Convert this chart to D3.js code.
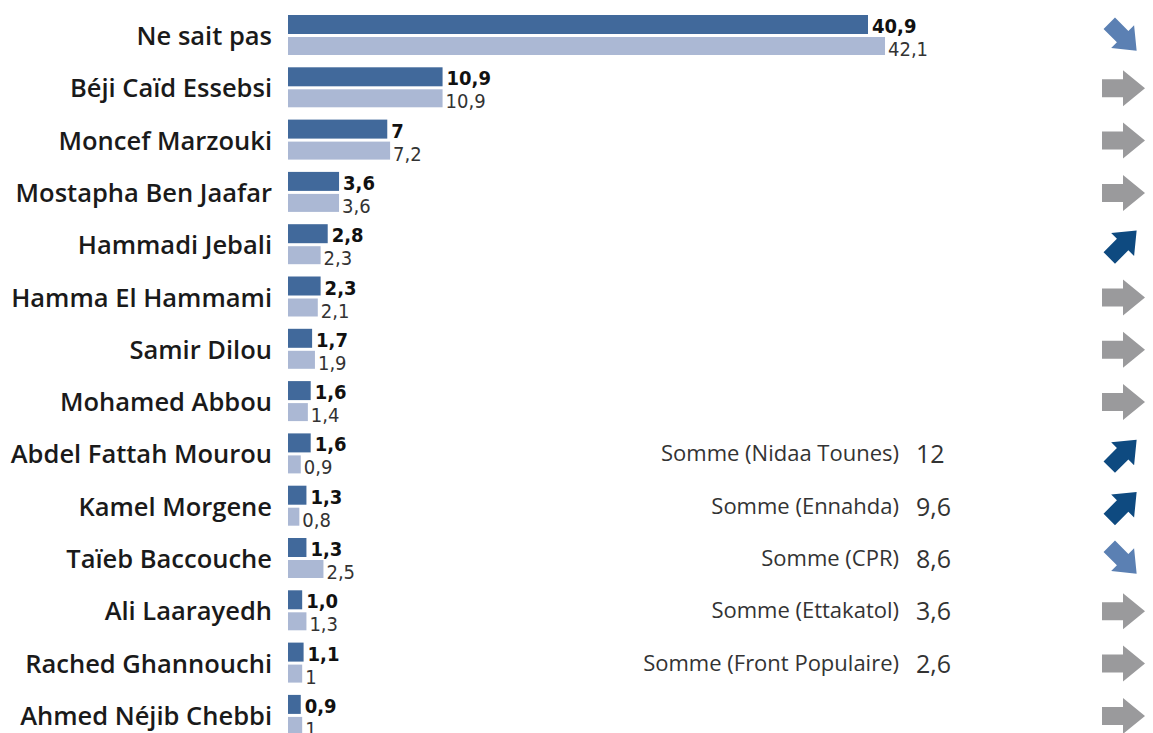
<!DOCTYPE html>
<html>
<head>
<meta charset="utf-8">
<script src="https://cdn.jsdelivr.net/npm/d3@7"></script>
<style>
  body { margin: 0; background: #fff; }
  svg { display: block; }
</style>
</head>
<body>
<svg id="chart" width="1153" height="733"></svg>
<script>
//Data
let names = ["Ne sait pas", "Béji Caïd Essebsi", "Moncef Marzouki", "Mostapha Ben Jaafar",
    "Hammadi Jebali", "Hamma El Hammami", "Samir Dilou", "Mohamed Abbou", "Abdel Fattah Mourou",
    "Kamel Morgene", "Taïeb Baccouche", "Ali Laarayedh", "Rached Ghannouchi", "Ahmed Néjib Chebbi"];
let current = [40.9, 10.9, 7, 3.6, 2.8, 2.3, 1.7, 1.6, 1.6, 1.3, 1.3, 1.0, 1.1, 0.9];
let previous = [42.1, 10.9, 7.2, 3.6, 2.3, 2.1, 1.9, 1.4, 0.9, 0.8, 2.5, 1.3, 1, 1];
let currentLabels = ["40,9", "10,9", "7", "3,6", "2,8", "2,3", "1,7", "1,6", "1,6", "1,3", "1,3", "1,0", "1,1", "0,9"];
let previousLabels = ["42,1", "10,9", "7,2", "3,6", "2,3", "2,1", "1,9", "1,4", "0,9", "0,8", "2,5", "1,3", "1", "1"];
let trends = ["down", "flat", "flat", "flat", "up", "flat", "flat", "flat", "up", "up", "down", "flat", "flat", "flat"];
let sumParties = ["Nidaa Tounes", "Ennahda", "CPR", "Ettakatol", "Front Populaire"];
let sumValues = ["12", "9,6", "8,6", "3,6", "2,6"];
let sumRows = ["Abdel Fattah Mourou", "Kamel Morgene", "Taïeb Baccouche", "Ali Laarayedh", "Rached Ghannouchi"];

let svg = d3.select("#chart");
let font = "'Open Sans', 'Noto Sans', sans-serif";
let condensed = "'DejaVu Sans Condensed', 'DejaVu Sans', sans-serif";

//Scales
let x = d3.scaleLinear().domain([0, 40.9]).range([288, 868]);
let y = d3.scaleBand().domain(names).range([15, 15 + 14 * 52.3]);

let rows = names.map((n, i) => ({name: n, cur: current[i], prev: previous[i],
    curLabel: currentLabels[i], prevLabel: previousLabels[i], trend: trends[i]}));

let g = svg.append("g");

//Names
g.selectAll(".name")
    .data(rows)
    .enter().append("text")
    .attr("class", "name")
    .attr("x", 272)
    .attr("y", d => y(d.name) + 30)
    .attr("text-anchor", "end")
    .attr("font-family", font)
    .attr("font-weight", 600)
    .attr("font-size", "25.5px")
    .attr("fill", "#1a1a1a")
    .text(d => d.name);

//Bars
g.selectAll(".cur")
    .data(rows)
    .enter().append("rect")
    .attr("x", x(0))
    .attr("y", d => y(d.name))
    .attr("width", d => x(d.cur) - x(0))
    .attr("height", 19)
    .attr("fill", "#41699b");

g.selectAll(".prev")
    .data(rows)
    .enter().append("rect")
    .attr("x", x(0))
    .attr("y", d => y(d.name) + 22)
    .attr("width", d => x(d.prev) - x(0))
    .attr("height", 18)
    .attr("fill", "#abb8d4");

//Values
g.selectAll(".curv")
    .data(rows)
    .enter().append("text")
    .attr("x", d => x(d.cur) + 4)
    .attr("y", d => y(d.name) + 18)
    .attr("font-family", condensed)
    .attr("font-weight", "bold")
    .attr("font-size", "20px")
    .attr("fill", "#111")
    .text(d => d.curLabel);

g.selectAll(".prevv")
    .data(rows)
    .enter().append("text")
    .attr("x", d => x(d.prev) + 3)
    .attr("y", d => y(d.name) + 41)
    .attr("font-family", condensed)
    .attr("font-size", "20px")
    .attr("fill", "#333")
    .text(d => d.prevLabel);

//Sums
let sums = sumParties.map((p, i) => ({party: p, value: sumValues[i], row: sumRows[i]}));
g.selectAll(".sumlab")
    .data(sums)
    .enter().append("text")
    .attr("x", 899)
    .attr("y", d => y(d.row) + 28)
    .attr("text-anchor", "end")
    .attr("font-family", font)
    .attr("font-size", "22px")
    .attr("fill", "#333")
    .text(d => "Somme (" + d.party + ")");

g.selectAll(".sumval")
    .data(sums)
    .enter().append("text")
    .attr("x", 916)
    .attr("y", d => y(d.row) + 30)
    .attr("font-family", font)
    .attr("font-size", "25px")
    .attr("fill", "#333")
    .text(d => d.value);

//Trend arrows
let arrowPath = "M-20,-9 L1,-9 L1,-18 L23,0 L1,18 L1,9 L-20,9 Z";
let arrowStyle = {
    flat: {rot: 0, color: "#9a9a9c", s: 1},
    up: {rot: -45, color: "#0e4a80", s: 0.9},
    down: {rot: 45, color: "#5b80b3", s: 0.9}
};
g.selectAll(".arrow")
    .data(rows)
    .enter().append("path")
    .attr("d", arrowPath)
    .attr("transform", d => "translate(1122," + (y(d.name) + 21) + ") rotate(" + arrowStyle[d.trend].rot + ") scale(" + arrowStyle[d.trend].s + ")")
    .attr("fill", d => arrowStyle[d.trend].color);
</script>
</body>
</html>
